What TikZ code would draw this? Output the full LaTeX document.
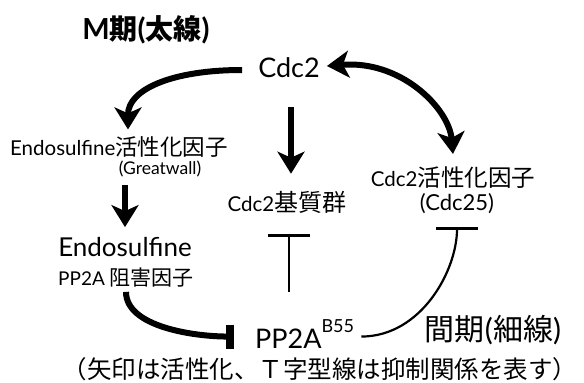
\documentclass[tikz,border=0pt]{standalone}
\usepackage{fontspec}
\setmainfont{Lato}
\newfontfamily\cjk{Noto Sans CJK JP}
\usetikzlibrary{arrows.meta}
\newcommand{\fs}[1]{\fontsize{#1}{#1}\selectfont}
\tikzset{
  lbl/.style={inner sep=1pt, anchor=center},
  bigarrow/.style={line width=6pt, -{Stealth[length=22pt,width=27pt,inset=6pt]}},
  bigdbl/.style={line width=6pt, {Stealth[length=22pt,width=27pt,inset=6pt]}-{Stealth[length=22pt,width=27pt,inset=6pt]}},
  biginh/.style={line width=6pt, -{Bar[width=24pt,line width=8pt]}},
  thininh/.style={line width=2.2pt, -{Bar[width=42pt,line width=2.5pt]}},
}
\begin{document}
\begin{tikzpicture}[x=1pt,y=-1pt]
\useasboundingbox (0,0) rectangle (584,383);
\node[lbl] (mphase) at (146,30) {\bfseries\fs{29}M\cjk\fs{28}期\fontspec{Lato}\bfseries\fs{29}(\cjk\fs{28}太線\fontspec{Lato}\bfseries\fs{29})};
\node[lbl] (cdc2) at (289,68) {\fs{27}Cdc2};
\node[lbl] (gwl) at (119,147) {\fs{20.5}Endosulfine\cjk\fs{22.5}活性化因子};
\node[lbl] (gwl2) at (160,169) {\fs{17.5}(Greatwall)};
\node[lbl] (endo) at (125,247) {\fs{26}Endosulfine};
\node[lbl] (endo2) at (126,278) {\fs{19}PP2A \cjk\fs{21}阻害因子};
\node[lbl] (sub) at (287,202) {\fs{20.5}Cdc2\cjk\fs{24}基質群};
\node[lbl] (c25) at (453,178) {\fs{20.5}Cdc2\cjk\fs{23.5}活性化因子};
\node[lbl] (c25b) at (457,204) {\fs{22}(Cdc25)};
\node[lbl, anchor=base west] (pp2a) at (254,348) {\fs{27}PP2A\raisebox{16pt}{\fs{18}B55}};
\node[lbl] (inter) at (493,330) {\cjk\fs{30}間期\fontspec{Lato}\fs{30}(\cjk 細線\fontspec{Lato}\fs{30})};
\node[lbl] (note) at (320,369) {\cjk\fs{24.5}（矢印は活性化、Ｔ字型線は抑制関係を表す）};

% Cdc2 -> Greatwall
\draw[bigarrow] ([xshift=-15pt, yshift=-2pt]cdc2.west) .. controls +(-70,0) and +(0,-40) .. ([xshift=9pt, yshift=6pt]gwl.north);
% Cdc2 -> substrates
\draw[bigarrow, shorten <=28pt, shorten >=16pt] ([xshift=2pt]cdc2.south) -- ([xshift=2pt]cdc2.south |- sub.north);
% Greatwall -> Endosulfine
\draw[bigarrow, shorten <=7pt, shorten >=9pt] (endo.north |- gwl2.south) -- (endo.north);
% Cdc2 <-> Cdc25
\draw[bigdbl] ([xshift=6pt, yshift=2pt]cdc2.east) .. controls +(75,-6) and +(-4,-45) .. ([xshift=0pt, yshift=12pt]c25.north);
% Endosulfine -| PP2A
\draw[biginh, shorten >=20pt] ([yshift=-3pt]endo2.south) .. controls +(0,35) and +(-60,0) .. ([yshift=-3pt]pp2a.west);
% PP2A -| substrates
\draw[thininh, shorten <=26pt, shorten >=20pt] (cdc2.south |- pp2a.north) -- (cdc2.south |- sub.south);
% PP2A -| Cdc25
\draw[thininh, shorten >=12pt] ([xshift=6pt, yshift=-3pt]pp2a.east) .. controls +(60,0) and +(0,55) .. (c25b.south);
\end{tikzpicture}
\end{document}
